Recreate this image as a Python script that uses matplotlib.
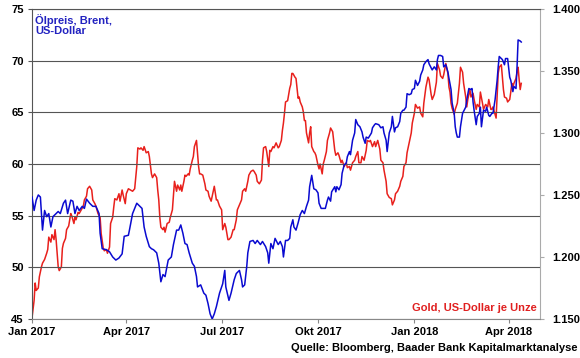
import matplotlib
matplotlib.use("Agg")
import matplotlib.pyplot as plt
import matplotlib.dates as mdates
import pandas as pd
from matplotlib.ticker import FuncFormatter

plt.rcParams['font.family'] = ['Liberation Sans', 'DejaVu Sans']
plt.rcParams['font.weight'] = 'bold'

# Brent, US-Dollar (Tage ab 1.1.2017)
oil_days = [0, 2, 4, 6, 8, 10, 12, 14, 16, 18, 20, 23, 25, 27, 30, 32, 34, 37, 39, 41,
            43, 45, 48, 50, 52, 55, 58, 61, 64, 65, 67, 71, 74, 77, 80, 83, 86, 88, 92, 93,
            96, 100, 103, 105, 107, 109, 112, 114, 116, 119, 121, 123, 125, 127, 130, 133, 135, 138, 140, 142,
            144, 146, 148, 150, 153, 155, 157, 158, 161, 164, 166, 168, 170, 172, 174, 176, 179, 182, 184, 185,
            188, 190, 193, 195, 198, 200, 201, 203, 205, 206, 208, 211, 213, 215, 218, 220, 223, 225, 226, 228,
            230, 232, 235, 237, 239, 240, 242, 244, 246, 247, 249, 250, 252, 254, 256, 258, 260, 262, 264, 265,
            267, 269, 271, 273, 274, 276, 278, 280, 282, 283, 285, 286, 289, 290, 291, 293, 295, 296, 298, 300,
            301, 303, 304, 306, 308, 309, 311, 313, 315, 316, 318, 319, 321, 324, 325, 327, 328, 331, 333, 335,
            336, 338, 339, 341, 343, 344, 346, 347, 349, 351, 352, 354, 355, 357, 358, 360, 362, 363, 365, 366,
            368, 370, 371, 373, 374, 376, 378, 379, 381, 382, 384, 386, 387, 388, 390, 392, 393, 395, 397, 398,
            400, 401, 403, 404, 405, 406, 408, 409, 411, 412, 414, 415, 417, 419, 420, 421, 422, 424, 425, 427,
            428, 429, 431, 433, 434, 436, 437, 439, 440, 442, 444, 445, 446, 448, 449, 451, 452, 454, 456, 457,
            459, 460, 462, 463, 464, 466, 467]
oil = [56.8, 55.5, 56.5, 57.0, 56.8, 53.6, 55.5, 54.9, 55.2, 53.9, 54.9, 55.2, 55.4, 55.2, 56.2, 56.5, 55.2, 56.5, 56.4, 55.2,
       55.9, 55.5, 55.9, 55.7, 56.6, 56.2, 55.9, 55.9, 55.2, 53.3, 51.8, 51.7, 51.5, 51.0, 50.7, 50.9, 51.3, 53.0, 53.1, 53.6,
       55.2, 56.2, 55.9, 55.7, 53.9, 53.0, 52.0, 51.8, 51.7, 51.4, 50.4, 48.6, 49.3, 49.1, 50.7, 51.0, 52.2, 53.6, 53.6, 54.1,
       53.3, 52.3, 52.2, 51.4, 50.4, 50.1, 49.1, 48.1, 48.3, 47.5, 47.3, 46.5, 45.5, 45.0, 45.5, 46.2, 47.5, 48.4, 49.7, 48.1,
       46.8, 47.5, 48.8, 49.4, 49.7, 48.8, 48.1, 48.3, 50.1, 51.4, 52.5, 52.6, 52.3, 52.6, 52.2, 52.5, 52.0, 51.4, 50.4, 52.3,
       51.8, 52.8, 52.2, 52.5, 52.0, 51.0, 52.6, 52.6, 52.8, 53.9, 54.6, 53.9, 53.6, 54.3, 55.1, 55.5, 55.2, 55.9, 56.5, 57.8,
       58.9, 57.6, 57.5, 57.2, 56.2, 55.7, 55.7, 55.7, 56.5, 56.8, 56.4, 57.3, 57.8, 57.3, 57.8, 57.5, 58.0, 59.1, 59.9, 60.1,
       60.7, 61.2, 60.9, 62.3, 63.0, 64.3, 63.8, 63.6, 63.1, 62.6, 62.0, 62.6, 62.5, 63.0, 63.5, 63.8, 63.9, 63.8, 63.5, 63.6,
       63.0, 62.3, 61.2, 63.0, 63.6, 64.6, 63.1, 63.5, 63.6, 64.1, 64.9, 65.2, 65.2, 65.5, 66.8, 66.7, 66.8, 67.2, 67.3, 68.1,
       67.6, 68.0, 68.6, 69.1, 69.6, 69.9, 70.1, 69.7, 69.3, 69.1, 69.4, 69.1, 70.1, 70.5, 70.5, 70.4, 69.4, 69.6, 68.9, 68.3,
       67.2, 65.9, 64.9, 63.6, 63.0, 62.6, 62.6, 63.6, 64.9, 65.1, 65.5, 66.2, 67.3, 67.2, 67.3, 66.0, 65.2, 63.8, 64.6, 64.9,
       65.5, 63.6, 65.2, 65.1, 65.5, 64.7, 64.6, 64.9, 64.9, 66.2, 68.1, 69.4, 70.4, 70.2, 70.1, 69.6, 70.2, 70.2, 68.4, 68.1,
       67.0, 67.5, 67.3, 69.4, 72.0, 71.9, 71.8]

# Gold, US-Dollar je Unze
gold_days = [0, 2, 3, 4, 6, 7, 9, 10, 12, 14, 15, 16, 18, 19, 21, 22, 23, 25, 26, 28,
             29, 30, 32, 33, 35, 37, 38, 40, 41, 42, 44, 45, 47, 49, 50, 52, 53, 55, 57, 58,
             60, 61, 63, 65, 66, 68, 69, 71, 72, 74, 75, 77, 78, 79, 81, 83, 84, 86, 87, 89,
             90, 92, 94, 96, 98, 100, 101, 103, 104, 106, 107, 109, 111, 112, 114, 115, 117, 119, 120, 121,
             122, 123, 125, 126, 127, 129, 131, 132, 134, 135, 136, 138, 139, 141, 142, 143, 145, 146, 147, 149,
             150, 151, 153, 154, 155, 157, 158, 159, 160, 161, 163, 165, 166, 168, 169, 171, 173, 174, 176, 177,
             179, 181, 182, 184, 185, 187, 188, 190, 192, 193, 195, 196, 198, 200, 201, 203, 204, 206, 207, 209,
             211, 212, 214, 215, 217, 219, 220, 221, 223, 224, 226, 227, 228, 230, 231, 233, 235, 236, 238, 239,
             240, 241, 242, 244, 246, 247, 248, 249, 251, 252, 253, 254, 255, 256, 258, 259, 260, 261, 262, 264,
             265, 266, 267, 269, 270, 271, 273, 274, 275, 277, 278, 279, 281, 282, 284, 285, 287, 289, 290, 292,
             293, 295, 296, 298, 300, 301, 303, 304, 306, 308, 309, 311, 312, 314, 315, 317, 319, 320, 322, 323,
             325, 327, 328, 330, 332, 333, 335, 336, 338, 339, 341, 343, 344, 346, 347, 349, 351, 352, 354, 355,
             357, 358, 360, 362, 363, 365, 366, 368, 370, 371, 373, 374, 376, 378, 379, 381, 382, 384, 386, 387,
             389, 390, 392, 393, 395, 397, 398, 399, 400, 401, 403, 404, 406, 407, 408, 409, 411, 412, 414, 415,
             416, 418, 419, 421, 422, 424, 425, 427, 428, 430, 431, 433, 435, 436, 438, 439, 440, 442, 443, 444,
             445, 446, 448, 449, 450, 451, 453, 454, 456, 457, 458, 459, 460, 462, 463, 464, 465, 466, 467]
gold = [1151, 1165, 1179, 1173, 1175, 1184, 1192, 1195, 1198, 1203, 1206, 1216, 1212, 1218, 1214, 1222, 1214, 1192, 1189, 1192,
        1207, 1211, 1215, 1222, 1225, 1235, 1233, 1227, 1232, 1230, 1236, 1235, 1238, 1241, 1246, 1249, 1255, 1257, 1254, 1246,
        1243, 1241, 1235, 1232, 1219, 1207, 1205, 1206, 1203, 1208, 1227, 1232, 1240, 1247, 1246, 1251, 1245, 1254, 1250, 1243,
        1251, 1255, 1254, 1253, 1255, 1273, 1288, 1287, 1288, 1286, 1289, 1284, 1285, 1281, 1267, 1264, 1267, 1264, 1254, 1246,
        1232, 1224, 1222, 1224, 1220, 1227, 1228, 1232, 1238, 1249, 1261, 1253, 1258, 1254, 1258, 1253, 1261, 1266, 1265, 1267,
        1266, 1271, 1278, 1281, 1289, 1294, 1284, 1273, 1267, 1267, 1266, 1259, 1254, 1253, 1249, 1245, 1253, 1257, 1246, 1246,
        1241, 1238, 1222, 1227, 1224, 1214, 1214, 1216, 1222, 1222, 1230, 1238, 1242, 1246, 1253, 1255, 1253, 1261, 1266, 1269,
        1270, 1269, 1266, 1261, 1259, 1262, 1278, 1288, 1289, 1285, 1273, 1286, 1285, 1289, 1288, 1292, 1288, 1289, 1294, 1302,
        1308, 1316, 1325, 1326, 1336, 1339, 1348, 1348, 1345, 1344, 1336, 1328, 1329, 1325, 1321, 1317, 1310, 1310, 1300, 1292,
        1300, 1305, 1289, 1285, 1284, 1282, 1274, 1271, 1275, 1267, 1275, 1278, 1285, 1294, 1300, 1304, 1301, 1286, 1282, 1284,
        1282, 1276, 1278, 1273, 1276, 1272, 1273, 1270, 1276, 1278, 1281, 1285, 1276, 1276, 1281, 1278, 1286, 1294, 1293, 1294,
        1289, 1293, 1289, 1294, 1287, 1278, 1276, 1270, 1261, 1251, 1248, 1247, 1242, 1246, 1251, 1253, 1257, 1261, 1265, 1273,
        1276, 1284, 1292, 1300, 1308, 1316, 1323, 1320, 1321, 1316, 1313, 1324, 1337, 1345, 1343, 1331, 1327, 1331, 1341, 1356,
        1351, 1346, 1344, 1347, 1356, 1348, 1337, 1333, 1324, 1320, 1315, 1319, 1324, 1332, 1340, 1353, 1349, 1340, 1329, 1321,
        1327, 1335, 1329, 1332, 1327, 1319, 1323, 1321, 1333, 1324, 1319, 1323, 1321, 1327, 1319, 1319, 1321, 1315, 1312, 1331,
        1348, 1353, 1355, 1345, 1335, 1329, 1328, 1325, 1327, 1333, 1340, 1337, 1340, 1344, 1349, 1353, 1343, 1335, 1340]

start = pd.Timestamp('2017-01-01')
oil_dates = start + pd.to_timedelta(oil_days, unit='D')
gold_dates = start + pd.to_timedelta(gold_days, unit='D')

fig = plt.figure(figsize=(5.8, 3.58), dpi=100)
ax = fig.add_axes([0.0552, 0.109, 0.876, 0.866])
ax2 = ax.twinx()

ax.plot(oil_dates, oil, color='#0a0ad0', lw=1.1, zorder=3)
ax2.plot(gold_dates, gold, color='#e8201c', lw=1.1, zorder=2)
ax.set_zorder(ax2.get_zorder() + 1)
ax.patch.set_visible(False)

ax.set_ylim(45, 75)
ax.set_yticks([45, 50, 55, 60, 65, 70, 75])
ax2.set_ylim(1150, 1400)
ax2.set_yticks([1150, 1200, 1250, 1300, 1350, 1400])
ax2.yaxis.set_major_formatter(FuncFormatter(lambda v, p: f"{v:,.0f}".replace(",", ".")))

ax.set_xlim(start, pd.Timestamp('2018-05-01'))
ticks = pd.to_datetime(['2017-01-01', '2017-04-01', '2017-07-01', '2017-10-01', '2018-01-01', '2018-04-01'])
ax.set_xticks(ticks)
ax.set_xticklabels(['Jan 2017', 'Apr 2017', 'Jul 2017', 'Okt 2017', 'Jan 2018', 'Apr 2018'])

ax.grid(axis='y', color='#555555', lw=0.8)
ax.grid(axis='x', visible=False)
ax2.grid(False)

for a in (ax, ax2):
    a.tick_params(labelsize=8, length=3, width=0.8, colors='black', pad=3)
ax2.tick_params(axis='y', colors='#aaaaaa', labelcolor='black', pad=6)
ax.tick_params(axis='x', colors='#888888', labelcolor='black', pad=3)
ax.tick_params(axis='y', colors='#555555', labelcolor='black')

ax.spines['left'].set_color('#555555')
ax.spines['bottom'].set_color('#888888')
ax.spines['top'].set_color('#555555')
ax.spines['right'].set_visible(False)
ax2.spines['right'].set_color('#aaaaaa')
ax2.spines['left'].set_visible(False)
ax2.spines['top'].set_visible(False)
ax2.spines['bottom'].set_visible(False)

ax.text(0.006, 0.985, 'Ölpreis, Brent,\nUS-Dollar', transform=ax.transAxes, color='#2222c0',
        fontsize=8, fontweight='bold', va='top', ha='left', linespacing=1.1)
ax.text(0.994, 0.02, 'Gold, US-Dollar je Unze', transform=ax.transAxes, color='#e02020',
        fontsize=8, fontweight='bold', va='bottom', ha='right')
fig.text(0.995, 0.015, 'Quelle: Bloomberg, Baader Bank Kapitalmarktanalyse', fontsize=8,
         fontweight='bold', ha='right', va='bottom')

fig.savefig('out.png', dpi=100)
